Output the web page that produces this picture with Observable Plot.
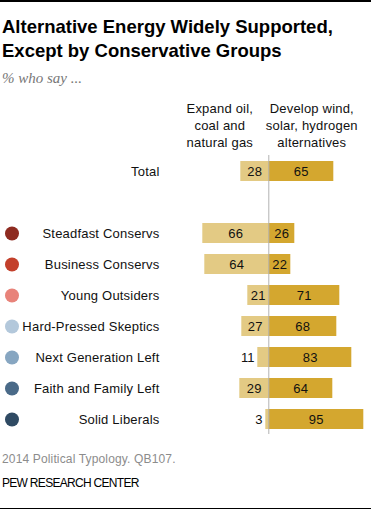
<!DOCTYPE html>
<html><head><meta charset="utf-8">
<script src="https://cdn.jsdelivr.net/npm/d3@7"></script>
<script src="https://cdn.jsdelivr.net/npm/@observablehq/plot@0.6"></script>
<style>
body{margin:0;background:#fff;}
#wrap{position:relative;width:371px;height:511px;overflow:hidden;font-family:"Liberation Sans",Arial,sans-serif;background:#fff;}
.abs{position:absolute;left:0;white-space:nowrap;}
</style></head><body>
<div id="wrap">
<div class="abs" style="top:0;width:371px;height:2px;background:#000"></div>
<div class="abs" style="top:15px;left:2px;font-size:18.5px;line-height:24px;font-weight:bold;color:#000">Alternative Energy Widely Supported,<br>Except by Conservative Groups</div>
<div class="abs" style="top:70px;left:2px;font-family:'Liberation Serif',Georgia,serif;font-style:italic;font-size:15px;line-height:17px;color:#777">% who say ...</div>
<div class="abs" id="chart" style="top:96px"></div>
<div class="abs" style="top:452px;left:2px;font-size:12px;line-height:14px;color:#8c8c8c;letter-spacing:0.15px">2014 Political Typology. QB107.</div>
<div class="abs" style="top:476px;left:2px;font-size:12px;line-height:14px;color:#000;letter-spacing:-0.7px">PEW RESEARCH CENTER</div>
<div class="abs" style="top:508px;width:371px;height:1px;background:#000"></div>
</div>
<script>
const groups = ["Total","Steadfast Conservs","Business Conservs","Young Outsiders","Hard-Pressed Skeptics","Next Generation Left","Faith and Family Left","Solid Liberals"];
const expandFossil = [28,66,64,21,27,11,29,3];
const developAlt = [65,26,22,71,68,83,64,95];
const dotColors = [null,"#8e2b20","#c3402b","#e8837a","#b3c8db","#87a6c1","#4a6a88","#2f4a63"];
const headerLabels = ["Expand oil,\ncoal and\nnatural gas","Develop wind,\nsolar, hydrogen\nalternatives"];

const rows = groups.map((g,i)=>({group:g, fossil:expandFossil[i], alt:developAlt[i], color:dotColors[i]}));
const yDomain = [groups[0], " ", ...groups.slice(1)];
const headerX = [-49, 43];
const headers = headerLabels.map((t,i)=>({t, x:headerX[i]}));

const lightFill = "#e3ca84", darkFill = "#d4a72f";

const chart = Plot.plot({
  width: 371, height: 344,
  marginTop: 59, marginBottom: 6, marginLeft: 0, marginRight: 0,
  style: {fontFamily: "'Liberation Sans', Arial, sans-serif", fontSize: "13px", background: "transparent", letterSpacing: "0.2px"},
  x: {domain: [-268.3, 102.7], axis: null},
  y: {type: "band", domain: yDomain, paddingInner: 0.355, paddingOuter: 0.1775, axis: null},
  color: {type: "identity"},
  marks: [
    Plot.barX(rows, {y: "group", x1: 0, x2: d => -d.fossil, fill: lightFill}),
    Plot.barX(rows, {y: "group", x1: 0, x2: "alt", fill: darkFill}),
    Plot.ruleX([0], {stroke: "#b3b3b3", strokeWidth: 1}),
    Plot.text(rows.filter(d => d.fossil >= 15), {y: "group", x: d => -d.fossil / 2, text: d => String(d.fossil), fill: "#111", fontSize: 13}),
    Plot.text(rows.filter(d => d.fossil < 15), {y: "group", x: d => -d.fossil, text: d => String(d.fossil), textAnchor: "end", dx: -3, fill: "#111", fontSize: 13}),
    Plot.text(rows, {y: "group", x: d => d.alt / 2, text: d => String(d.alt), fill: "#111", fontSize: 13}),
    Plot.text(rows, {y: "group", text: "group", frameAnchor: "left", dx: 159, textAnchor: "end", fill: "#111", fontSize: 13}),
    Plot.dot(rows.filter(d => d.color), {y: "group", frameAnchor: "left", dx: 11.5, r: 7, fill: "color"}),
    Plot.text(headers, {x: "x", text: "t", frameAnchor: "top", lineAnchor: "bottom", dy: -9, lineHeight: 1.27, fill: "#111", fontSize: 13})
  ]
});
document.getElementById("chart").appendChild(chart);
</script>
</body></html>
